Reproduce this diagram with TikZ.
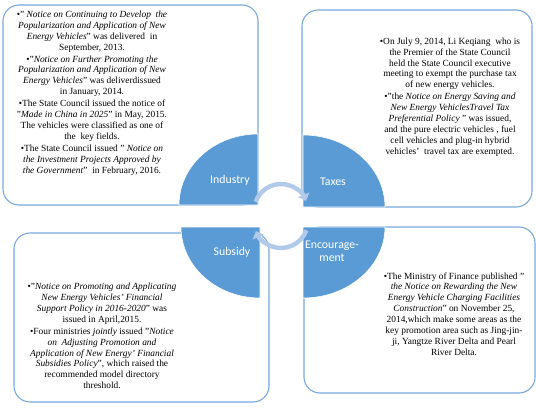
\documentclass[tikz,border=0pt]{standalone}
\usepackage{fontspec}
\setmainfont{Liberation Serif}
\newfontfamily\calibri{Carlito}
\usetikzlibrary{arrows.meta}
\definecolor{pieblue}{HTML}{5B9BD5}
\definecolor{boxline}{HTML}{78A9E0}
\definecolor{cyclearrow}{HTML}{B2CAEA}
\begin{document}
\begin{tikzpicture}[x=1pt, y=1pt,
    box/.style={draw=boxline, line width=1.1pt, fill=white, rounded corners=16pt},
    pie/.style={fill=pieblue, draw=white, line width=0.6pt},
    label/.style={text=white, font=\calibri\fontsize{11.8}{13}\selectfont, align=center, inner sep=0pt},
    notes/.style={align=center, inner sep=0pt, font=\fontsize{9.4}{10.9}\selectfont},
    cycle/.style={draw=cyclearrow, line width=4.4pt, -{Triangle[length=6.5pt, width=12pt]}}]
    \useasboundingbox (0, 0) rectangle (536, 408);

    \draw[box] (3, 203) rectangle (258, 403);
    \draw[box] (302, 201) rectangle (532, 398);
    \draw[box] (14, 6) rectangle (269, 175);
    \draw[box] (304, 15) rectangle (535, 181);

    \fill[pie] (258, 203) -- (179, 203) arc[start angle=180, end angle=90, x radius=79, y radius=71] -- cycle;
    \fill[pie] (303, 201) -- (385, 201) arc[start angle=0, end angle=90, x radius=82, y radius=72] -- cycle;
    \fill[pie] (260, 181) -- (181, 181) arc[start angle=180, end angle=270, x radius=79, y radius=71] -- cycle;
    \fill[pie] (303, 181) -- (385, 181) arc[start angle=0, end angle=-90, x radius=82, y radius=71] -- cycle;

    \node[label] (industry) at (230, 228) {Industry};
    \node[label] (taxes) at (333, 226) {Taxes};
    \node[label] (subsidy) at (232, 156) {Subsidy};
    \node[label] (encourage) at (332, 157) {Encourage-\\ment};

    \draw[cycle] (281, 197) ++(160:27) arc[start angle=160, end angle=22, radius=27];
    \draw[cycle] (281, 187) ++(-20:27) arc[start angle=-20, end angle=-158, radius=27];

    \node[notes] (industrytext) at (92, 315) {%
        •" \textit{Notice on Continuing to Develop\ \ the}\\
        \textit{Popularization and Application of New}\\
        \textit{Energy Vehicles}" was delivered\ \ in\\
        September, 2013.\\[1pt]
        •"\textit{Notice on Further Promoting the}\\
        \textit{Popularization and Application of New}\\
        \textit{Energy Vehicles}" was deliverdissued\\
        in January, 2014.\\[1pt]
        •The State Council issued the notice of\\
        "\textit{Made in China in 2025}" in May, 2015.\\
        The vehicles were classified as one of\\
        the\ \ key fields.\\[1pt]
        •The State Council issued " \textit{Notice on}\\
        \textit{the Investment Projects Approved by}\\
        \textit{the Government}"\ \ in February, 2016.};

    \node[notes] (taxestext) at (450, 311) {%
        •On July 9, 2014, Li Keqiang\ \ who is\\
        the Premier of the State Council\\
        held the State Council executive\\
        meeting to exempt the purchase tax\\
        of new energy vehicles.\\[1pt]
        •"the \textit{Notice on Energy Saving and}\\
        \textit{New Energy VehiclesTravel Tax}\\
        \textit{Preferential Policy} " was issued,\\
        and the pure electric vehicles , fuel\\
        cell vehicles and plug-in hybrid\\
        vehicles'\ \ travel tax are exempted.};

    \node[notes] (subsidytext) at (102, 72) {%
        •"\textit{Notice on Promoting and Applicating}\\
        \textit{New Energy Vehicles' Financial}\\
        \textit{Support Policy in 2016-2020}" was\\
        issued in April,2015.\\[1pt]
        •Four ministries \textit{jointly} issued "\textit{Notice}\\
        \textit{on\ \ Adjusting Promotion and}\\
        \textit{Application of New Energy' Financial}\\
        \textit{Subsidies Policy}", which raised the\\
        recommended model directory\\
        threshold.};

    \node[notes] (encouragetext) at (454, 94) {%
        •The Ministry of Finance published "\\
        \textit{the Notice on Rewarding the New}\\
        \textit{Energy Vehicle Charging Facilities}\\
        \textit{Construction}" on November 25,\\
        2014,which make some areas as the\\
        key promotion area such as Jing-jin-\\
        ji, Yangtze River Delta and Pearl\\
        River Delta.};
\end{tikzpicture}
\end{document}
